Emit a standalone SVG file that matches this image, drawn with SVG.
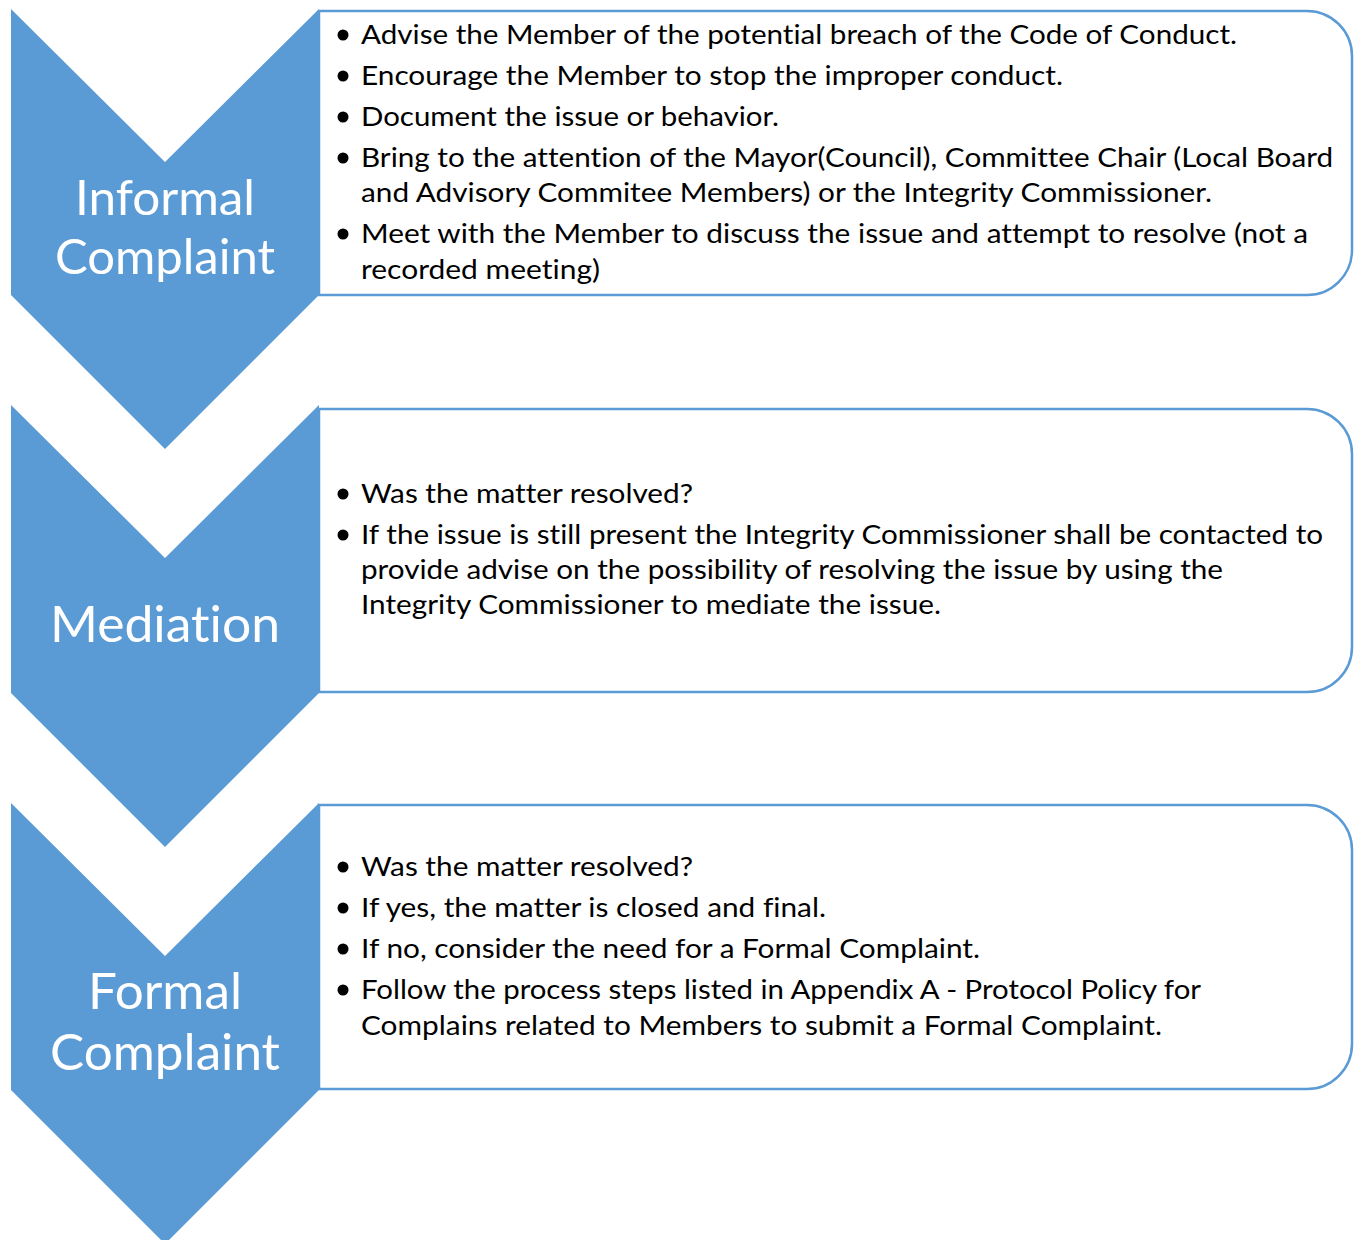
<svg xmlns="http://www.w3.org/2000/svg" width="1360" height="1240" viewBox="0 0 1360 1240">
<style>
.box{fill:#ffffff;stroke:#5b9bd5;stroke-width:2.5}
.chev{fill:#5b9bd5}
.lbl{font-family:Lato,"Open Sans","Liberation Sans",sans-serif;fill:#ffffff;text-anchor:middle;font-variant-ligatures:none;font-feature-settings:"liga" 0,"dlig" 0}
.t{font-family:Lato,"Open Sans","Liberation Sans",sans-serif;font-size:26.5px;fill:#000000;font-variant-ligatures:none;font-feature-settings:"liga" 0,"dlig" 0}
.b{fill:#000000}
</style>
<rect width="1360" height="1240" fill="#ffffff"/>
<g id="connectors"></g>

<g id="step1">
<path class="box" d="M319,11 H1307 A45,45 0 0 1 1352,56 V250 A45,45 0 0 1 1307,295 H319 Z"/>
<polygon class="chev" points="11,9 165,162 319,9 319,295 165,449 11,295"/>
<text class="lbl" font-size="49" x="165" y="215" textLength="180" lengthAdjust="spacingAndGlyphs">Informal</text>
<text class="lbl" font-size="49" x="165" y="274" textLength="220" lengthAdjust="spacingAndGlyphs">Complaint</text>
<g class="b">
<circle cx="343" cy="35" r="5.5"/>
<circle cx="343" cy="76" r="5.5"/>
<circle cx="343" cy="117" r="5.5"/>
<circle cx="343" cy="158" r="5.5"/>
<circle cx="343" cy="234" r="5.5"/>
</g>
<text class="t" x="361" y="44" textLength="876" lengthAdjust="spacingAndGlyphs">Advise the Member of the potential breach of the Code of Conduct.</text>
<text class="t" x="361" y="85" textLength="702" lengthAdjust="spacingAndGlyphs">Encourage the Member to stop the improper conduct.</text>
<text class="t" x="361" y="126" textLength="418" lengthAdjust="spacingAndGlyphs">Document the issue or behavior.</text>
<text class="t" x="361" y="167" textLength="972" lengthAdjust="spacingAndGlyphs">Bring to the attention of the Mayor(Council), Committee Chair (Local Board</text>
<text class="t" x="361" y="202" textLength="851" lengthAdjust="spacingAndGlyphs">and Advisory Commitee Members) or the Integrity Commissioner.</text>
<text class="t" x="361" y="243" textLength="947" lengthAdjust="spacingAndGlyphs">Meet with the Member to discuss the issue and attempt to resolve (not a</text>
<text class="t" x="361" y="279" textLength="239" lengthAdjust="spacingAndGlyphs">recorded meeting)</text>
</g>

<g id="step2">
<path class="box" d="M319,409 H1307 A45,45 0 0 1 1352,454 V647 A45,45 0 0 1 1307,692 H319 Z"/>
<polygon class="chev" points="11,405 165,558 319,405 319,693 165,847 11,693"/>
<text class="lbl" font-size="51" x="165" y="642" textLength="230" lengthAdjust="spacingAndGlyphs">Mediation</text>
<g class="b">
<circle cx="343" cy="494" r="5.5"/>
<circle cx="343" cy="535" r="5.5"/>
</g>
<text class="t" x="361" y="503" textLength="332" lengthAdjust="spacingAndGlyphs">Was the matter resolved?</text>
<text class="t" x="361" y="544" textLength="962" lengthAdjust="spacingAndGlyphs">If the issue is still present the Integrity Commissioner shall be contacted to</text>
<text class="t" x="361" y="579" textLength="862" lengthAdjust="spacingAndGlyphs">provide advise on the possibility of resolving the issue by using the</text>
<text class="t" x="361" y="614" textLength="580" lengthAdjust="spacingAndGlyphs">Integrity Commissioner to mediate the issue.</text>
</g>

<g id="step3">
<path class="box" d="M319,805 H1307 A45,45 0 0 1 1352,850 V1044 A45,45 0 0 1 1307,1089 H319 Z"/>
<polygon class="chev" points="11,803 165,956 319,803 319,1090 165,1244 11,1090"/>
<text class="lbl" font-size="51" x="165" y="1009" textLength="154" lengthAdjust="spacingAndGlyphs">Formal</text>
<text class="lbl" font-size="51" x="165" y="1070" textLength="230" lengthAdjust="spacingAndGlyphs">Complaint</text>
<g class="b">
<circle cx="343" cy="867" r="5.5"/>
<circle cx="343" cy="908" r="5.5"/>
<circle cx="343" cy="949" r="5.5"/>
<circle cx="343" cy="990" r="5.5"/>
</g>
<text class="t" x="361" y="876" textLength="332" lengthAdjust="spacingAndGlyphs">Was the matter resolved?</text>
<text class="t" x="361" y="917" textLength="465" lengthAdjust="spacingAndGlyphs">If yes, the matter is closed and final.</text>
<text class="t" x="361" y="958" textLength="619" lengthAdjust="spacingAndGlyphs">If no, consider the need for a Formal Complaint.</text>
<text class="t" x="361" y="999" textLength="840" lengthAdjust="spacingAndGlyphs">Follow the process steps listed in Appendix A - Protocol Policy for</text>
<text class="t" x="361" y="1035" textLength="801" lengthAdjust="spacingAndGlyphs">Complains related to Members to submit a Formal Complaint.</text>
</g>
</svg>
